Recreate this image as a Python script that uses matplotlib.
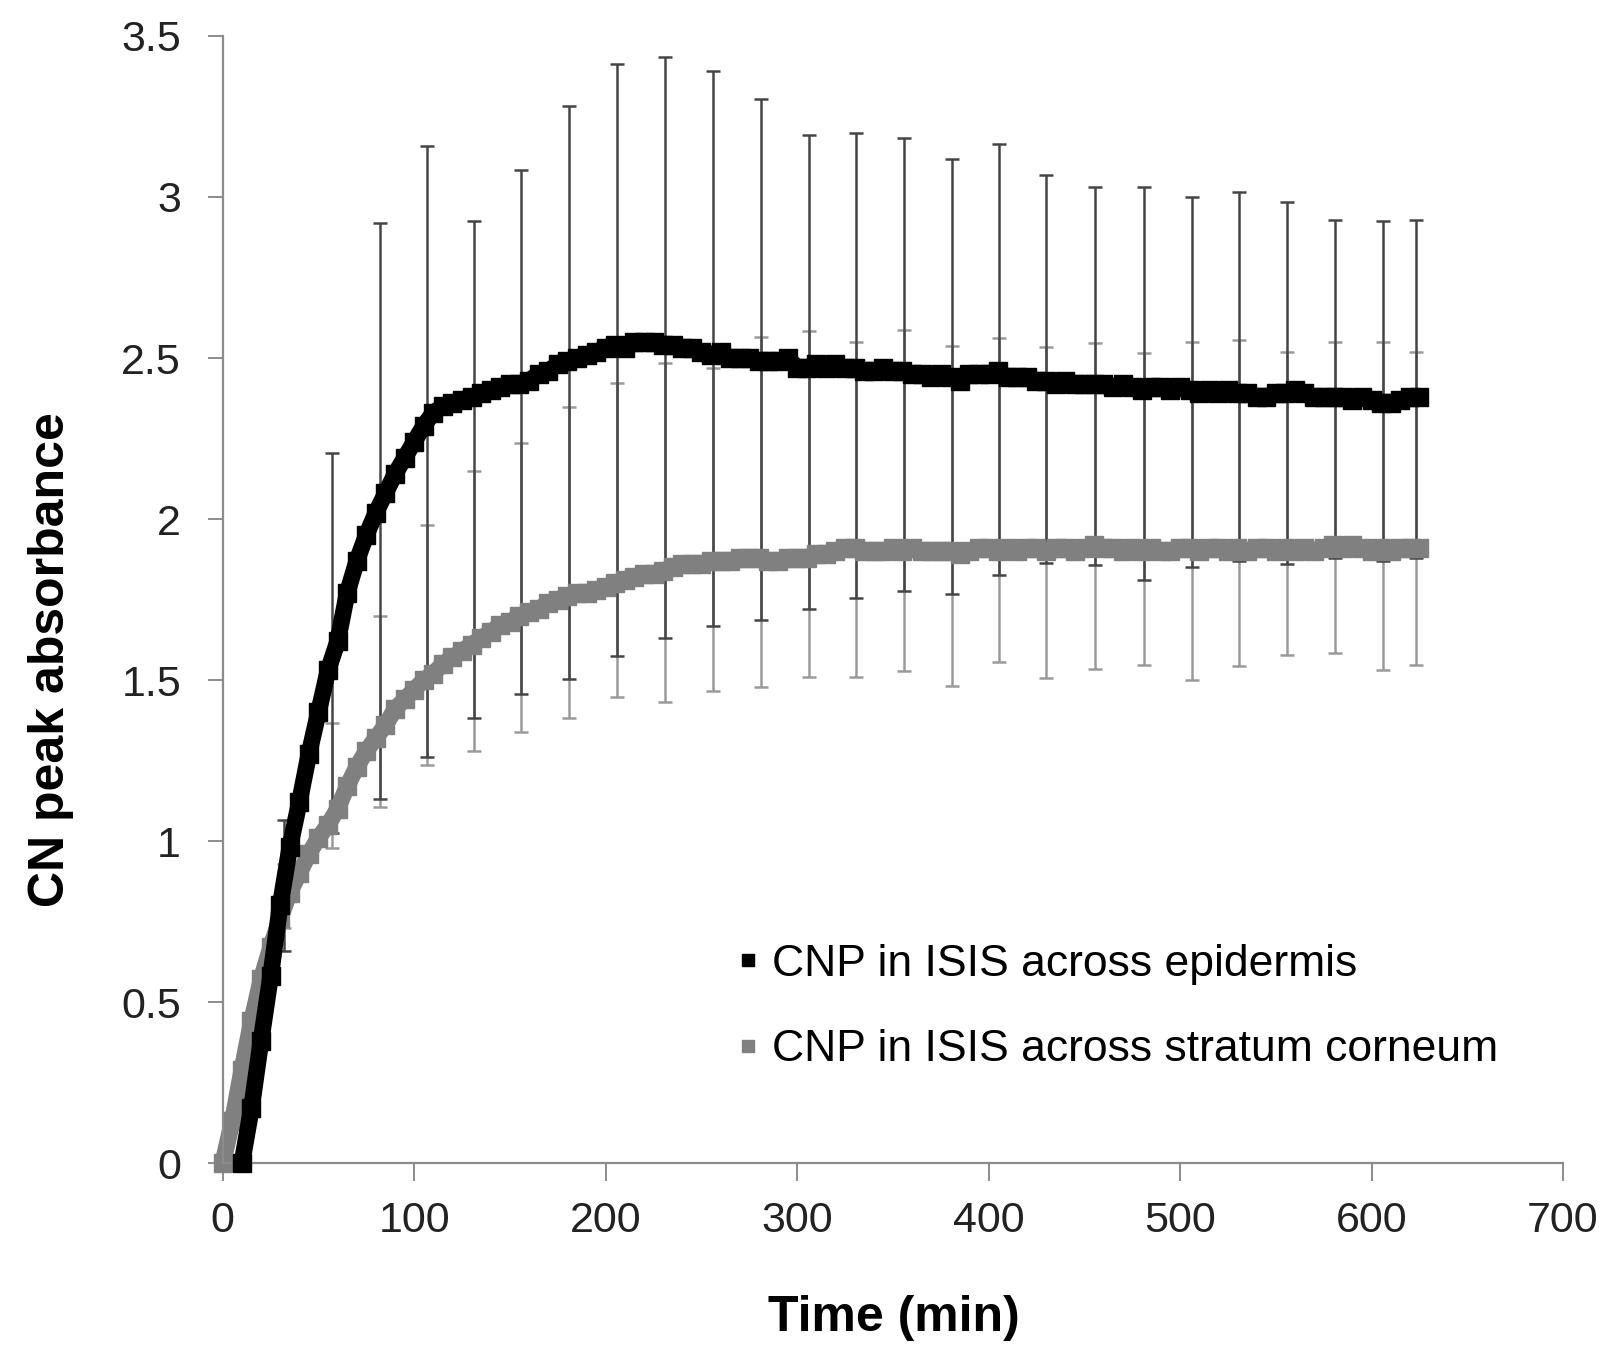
import matplotlib
matplotlib.use("Agg")
import matplotlib.pyplot as plt
from matplotlib.lines import Line2D

plt.rcParams['font.family'] = ['Liberation Sans', 'DejaVu Sans']

# ---- data ----
epi_t = list(range(10, 630, 5))
epi_y = [0.00, 0.17, 0.38, 0.58, 0.80, 0.98, 1.12, 1.27, 1.40, 1.53,
         1.62, 1.77, 1.87, 1.95, 2.02, 2.08, 2.14, 2.19, 2.24, 2.29,
         2.33, 2.35, 2.36, 2.37, 2.38, 2.39, 2.40, 2.41, 2.42, 2.42,
         2.43, 2.45, 2.46, 2.48, 2.49, 2.50, 2.51, 2.52, 2.53, 2.54,
         2.53, 2.55, 2.55, 2.55, 2.54, 2.54, 2.53, 2.53, 2.52, 2.51,
         2.52, 2.50, 2.50, 2.50, 2.49, 2.49, 2.49, 2.50, 2.47, 2.47,
         2.48, 2.47, 2.48, 2.47, 2.47, 2.46, 2.46, 2.47, 2.46, 2.46,
         2.45, 2.45, 2.44, 2.45, 2.44, 2.43, 2.45, 2.45, 2.45, 2.46,
         2.44, 2.44, 2.44, 2.43, 2.43, 2.42, 2.43, 2.42, 2.42, 2.42,
         2.42, 2.41, 2.42, 2.41, 2.40, 2.41, 2.41, 2.40, 2.41, 2.40,
         2.39, 2.40, 2.39, 2.40, 2.39, 2.39, 2.38, 2.38, 2.39, 2.39,
         2.40, 2.39, 2.38, 2.38, 2.38, 2.38, 2.37, 2.38, 2.37, 2.36,
         2.36, 2.37, 2.38, 2.38]

sc_t = list(range(0, 630, 5))
sc_y = [0.00, 0.13, 0.29, 0.44, 0.57, 0.67, 0.76, 0.84, 0.90, 0.96,
        1.01, 1.05, 1.10, 1.17, 1.23, 1.28, 1.32, 1.36, 1.41, 1.44,
        1.47, 1.50, 1.52, 1.55, 1.57, 1.59, 1.61, 1.63, 1.65, 1.67,
        1.68, 1.70, 1.71, 1.72, 1.74, 1.75, 1.76, 1.77, 1.77, 1.78,
        1.79, 1.80, 1.81, 1.82, 1.83, 1.83, 1.84, 1.85, 1.86, 1.86,
        1.86, 1.87, 1.87, 1.87, 1.88, 1.88, 1.88, 1.87, 1.87, 1.88,
        1.88, 1.88, 1.89, 1.89, 1.90, 1.91, 1.91, 1.90, 1.90, 1.90,
        1.91, 1.90, 1.91, 1.90, 1.90, 1.90, 1.90, 1.89, 1.90, 1.91,
        1.91, 1.90, 1.91, 1.90, 1.91, 1.91, 1.90, 1.91, 1.91, 1.90,
        1.91, 1.92, 1.91, 1.91, 1.90, 1.91, 1.90, 1.91, 1.90, 1.90,
        1.91, 1.91, 1.90, 1.91, 1.91, 1.90, 1.91, 1.90, 1.91, 1.91,
        1.90, 1.91, 1.90, 1.91, 1.90, 1.91, 1.92, 1.91, 1.92, 1.91,
        1.90, 1.91, 1.90, 1.91, 1.91, 1.91]

err_t = [32, 57, 82, 106.5, 131, 156, 181, 206, 231, 256, 281, 306, 331,
         356, 381, 405.5, 430, 455.5, 481, 506, 531, 556, 581, 606, 623]
epi_hi = [1.065, 2.206, 2.918, 3.159, 2.926, 3.084, 3.283, 3.413, 3.434,
          3.391, 3.303, 3.193, 3.200, 3.182, 3.118, 3.165, 3.068, 3.030,
          3.030, 2.999, 3.015, 2.985, 2.929, 2.925, 2.929]
epi_lo = [0.66, 1.024, 1.13, 1.26, 1.381, 1.457, 1.502, 1.575, 1.631,
          1.669, 1.686, 1.720, 1.754, 1.777, 1.767, 1.826, 1.862, 1.857,
          1.811, 1.85, 1.87, 1.86, 1.88, 1.87, 1.88]
sc_hi = [0.93, 1.366, 1.70, 1.981, 2.150, 2.236, 2.348, 2.423, 2.485,
         2.47, 2.566, 2.585, 2.549, 2.587, 2.538, 2.561, 2.535, 2.548,
         2.515, 2.549, 2.556, 2.518, 2.549, 2.549, 2.518]
sc_lo = [0.73, 0.978, 1.107, 1.236, 1.280, 1.340, 1.383, 1.446, 1.431,
         1.467, 1.477, 1.510, 1.510, 1.528, 1.482, 1.555, 1.505, 1.534,
         1.547, 1.50, 1.543, 1.578, 1.583, 1.531, 1.547]

x_ticks = [0, 100, 200, 300, 400, 500, 600, 700]
y_ticks = [0, 0.5, 1, 1.5, 2, 2.5, 3, 3.5]
y_tick_labels = ['0', '0.5', '1', '1.5', '2', '2.5', '3', '3.5']
label_epi = 'CNP in ISIS across epidermis'
label_sc = 'CNP in ISIS across stratum corneum'

# ---- figure ----
fig = plt.figure(figsize=(16.21, 13.53), dpi=100)
ax = fig.add_axes([0.1374, 0.1404, 0.8268, 0.8330])

def bars(t, lo, hi, color):
    span = [h - l for h, l in zip(hi, lo)]
    ax.errorbar(t, lo, yerr=[[0] * len(t), span], fmt='none',
                ecolor=color, elinewidth=1.8, capsize=5, capthick=1.8,
                zorder=1)

bars(err_t, sc_lo, sc_hi, '#9a9a9a')
bars(err_t, epi_lo, epi_hi, '#454545')

ax.plot(sc_t, sc_y, color='#808080', lw=12, marker='s', ms=13,
        solid_capstyle='butt', zorder=2, clip_on=False)
ax.plot(epi_t, epi_y, color='black', lw=12, marker='s', ms=13,
        solid_capstyle='butt', zorder=3, clip_on=False)

ax.set_xlim(0, 700)
ax.set_ylim(0, 3.5)
ax.set_xticks(x_ticks)
ax.set_yticks(y_ticks)
ax.set_yticklabels(y_tick_labels)

for s in ['top', 'right']:
    ax.spines[s].set_visible(False)
for s in ['left', 'bottom']:
    ax.spines[s].set_color('#8c8c8c')
    ax.spines[s].set_linewidth(1.6)

ax.tick_params(axis='y', direction='out', length=11, width=1.4,
               color='#8c8c8c', labelsize=31, labelcolor='#222222', pad=19)
ax.tick_params(axis='x', direction='out', length=13, width=1.4,
               color='#8c8c8c', labelsize=31, labelcolor='#222222', pad=14)

fig.text(894 / 1621, 1 - 1318 / 1353, 'Time (min)', fontsize=36,
         fontweight='bold', ha='center', va='center')
fig.text(51 / 1621, 1 - 660 / 1353, 'CN peak absorbance', fontsize=36,
         fontweight='bold', ha='center', va='center', rotation=90)

handles = [Line2D([], [], marker='s', color='black', ls='none', ms=8),
           Line2D([], [], marker='s', color='#808080', ls='none', ms=8)]
ax.legend(handles, [label_epi, label_sc], loc='upper left',
          bbox_to_anchor=(739 / 1621, 1 - 944 / 1353),
          bbox_transform=fig.transFigure, frameon=False, fontsize=32,
          handlelength=0.4, handletextpad=0.35, labelspacing=1.0,
          borderpad=0, borderaxespad=0)

fig.savefig('out.png', dpi=100)
